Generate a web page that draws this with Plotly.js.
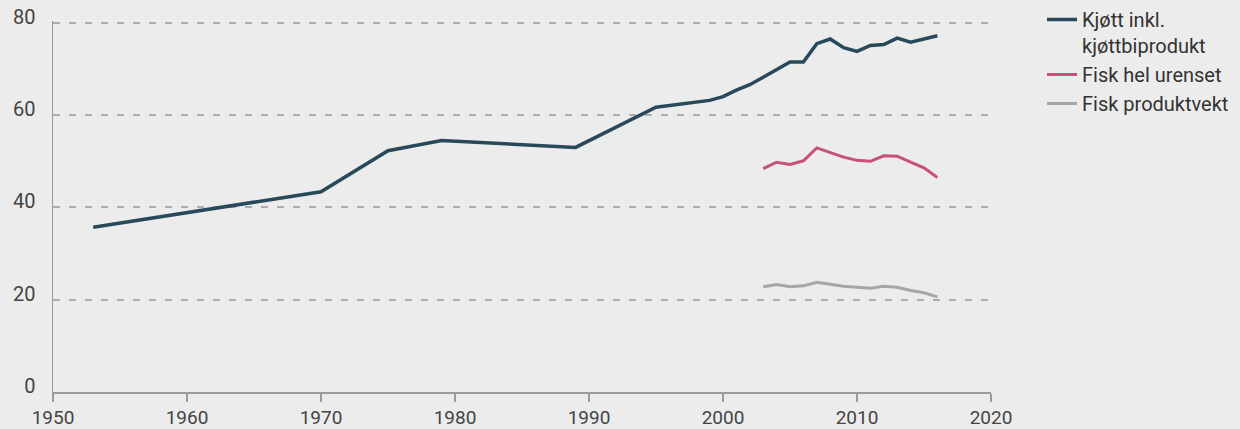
<!DOCTYPE html>
<html>
<head>
<meta charset="utf-8">
<script src="https://cdn.plot.ly/plotly-3.0.1.min.js"></script>
<style>
  html, body { margin: 0; padding: 0; background: #ececec; }
  #chart { width: 1240px; height: 429px; }
</style>
</head>
<body>
<div id="chart"></div>
<script>
// Meat including offal (kg per person per year)
const meatYears = [1953, 1970, 1975, 1979, 1989, 1995, 1999, 2000, 2001, 2002, 2003, 2004, 2005, 2006, 2007, 2008, 2009, 2010, 2011, 2012, 2013, 2014, 2015, 2016];
const meatValues = [35.7, 43.4, 52.3, 54.5, 53.0, 61.7, 63.2, 64.0, 65.4, 66.6, 68.2, 69.9, 71.5, 71.5, 75.5, 76.5, 74.6, 73.8, 75.1, 75.3, 76.7, 75.8, 76.5, 77.2];

// Fish, whole ungutted weight and product weight
const fishYears = [2003, 2004, 2005, 2006, 2007, 2008, 2009, 2010, 2011, 2012, 2013, 2014, 2015, 2016];
const fishWholeValues = [48.4, 49.8, 49.3, 50.1, 52.9, 51.9, 50.9, 50.2, 50.0, 51.2, 51.1, 49.8, 48.6, 46.5];
const fishProductValues = [22.8, 23.3, 22.8, 23.0, 23.8, 23.4, 22.9, 22.7, 22.5, 22.9, 22.7, 22.0, 21.5, 20.6];

const seriesNames = ["Kjøtt inkl.<br>kjøttbiprodukt", "Fisk hel urenset", "Fisk produktvekt"];
const xTicks = [1950, 1960, 1970, 1980, 1990, 2000, 2010, 2020];
const yTicks = [0, 20, 40, 60, 80];

const FONT = "Roboto, 'Liberation Sans', sans-serif";

const traces = [
  { x: meatYears, y: meatValues, name: seriesNames[0], mode: "lines",
    line: { color: "#27495a", width: 3.5 } },
  { x: fishYears, y: fishWholeValues, name: seriesNames[1], mode: "lines",
    line: { color: "#c94f7c", width: 3 } },
  { x: fishYears, y: fishProductValues, name: seriesNames[2], mode: "lines",
    line: { color: "#a6a6a6", width: 3 } }
];

const layout = {
  width: 1240,
  height: 429,
  margin: { l: 53, r: 249, t: 21, b: 37, pad: 0 },
  paper_bgcolor: "#ececec",
  plot_bgcolor: "#ececec",
  font: { family: FONT, color: "#444444", size: 20 },
  showlegend: true,
  legend: {
    xref: "container", yref: "container",
    x: 1042 / 1240, y: 1.0,
    xanchor: "left", yanchor: "top",
    valign: "top",
    bgcolor: "rgba(0,0,0,0)",
    font: { family: FONT, size: 20, color: "#333333" },
    tracegroupgap: 0
  },
  xaxis: {
    range: [1950, 2020],
    tickmode: "array",
    tickvals: xTicks,
    ticktext: xTicks.map(String),
    showgrid: false,
    zeroline: false,
    showline: true,
    linecolor: "#9a9a9a",
    linewidth: 1.5,
    ticks: "outside",
    ticklen: 8,
    tickwidth: 1.5,
    tickcolor: "#9a9a9a",
    ticklabelstandoff: 0,
    tickfont: { family: FONT, size: 19, color: "#444444" },
    fixedrange: true
  },
  yaxis: {
    range: [0, 80.4],
    tickmode: "array",
    tickvals: yTicks,
    ticktext: yTicks.map(String),
    showgrid: true,
    gridcolor: "#adadad",
    gridwidth: 2,
    griddash: "7px,9px",
    zeroline: false,
    showline: true,
    linecolor: "#9a9a9a",
    linewidth: 1.5,
    ticks: "",
    ticklabelstandoff: 12,
    ticklabelshift: -6,
    tickfont: { family: FONT, size: 20, color: "#444444" },
    fixedrange: true
  }
};

Plotly.newPlot("chart", traces, layout, { displayModeBar: false, staticPlot: true });
</script>
</body>
</html>
